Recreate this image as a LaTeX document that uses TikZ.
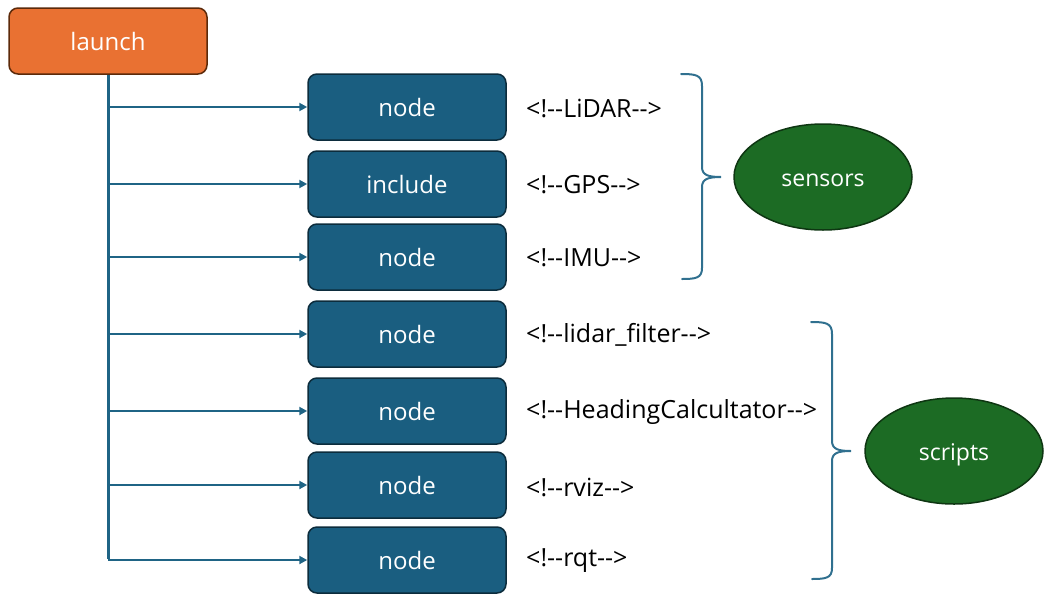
\documentclass[tikz,border=0pt]{standalone}
\usepackage{fontspec}
\setmainfont{Open Sans}
\usetikzlibrary{shapes.geometric,arrows.meta}
\definecolor{launchfill}{HTML}{E97132}
\definecolor{launchline}{HTML}{5C2A0A}
\definecolor{boxfill}{HTML}{1A5E80}
\definecolor{boxline}{HTML}{0C2C3C}
\definecolor{ellfill}{HTML}{1C6B24}
\definecolor{ellline}{HTML}{0E3612}
\definecolor{conn}{HTML}{1F6485}
\definecolor{bracec}{HTML}{30708F}
\tikzset{
  launchbox/.style={draw=launchline, fill=launchfill, line width=1.5pt, rounded corners=9pt,
    minimum width=198pt, minimum height=66pt, inner sep=0pt, text=white, font=\fontsize{24}{28}\selectfont},
  bluebox/.style={draw=boxline, fill=boxfill, line width=1.5pt, rounded corners=9pt,
    minimum width=198pt, minimum height=66pt, inner sep=0pt, text=white, font=\fontsize{24}{28}\selectfont},
  lbl/.style={anchor=west, inner sep=0pt, text=black, font=\fontsize{25}{29}\selectfont},
  grp/.style={ellipse, draw=ellline, fill=ellfill, line width=1.5pt, minimum width=178pt,
    minimum height=106pt, inner sep=0pt, text=white, text height=13pt, text depth=0pt,
    font=\fontsize{23}{27}\selectfont},
  arr/.style={draw=conn, line width=2pt, -{Triangle[length=8pt,width=8pt]}},
  trunk/.style={draw=conn, line width=3pt},
  bracel/.style={draw=bracec, line width=2pt, line cap=round},
}
\begin{document}
\begin{tikzpicture}[x=1pt,y=-1pt]
\useasboundingbox (0,0) rectangle (1051,603);
\node[launchbox] (launch) at (108,41) {launch};
\node[bluebox] (b1) at (407,107) {node};
\node[bluebox] (b2) at (407,184) {include};
\node[bluebox] (b3) at (407,257) {node};
\node[bluebox] (b4) at (407,334) {node};
\node[bluebox] (b5) at (407,411) {node};
\node[bluebox] (b6) at (407,485) {node};
\node[bluebox] (b7) at (407,560) {node};
\node[lbl] (l1) at (526,108) {<!-{}-LiDAR-{}->};
\node[lbl] (l2) at (526,185) {<!-{}-GPS-{}->};
\node[lbl] (l3) at (526,258) {<!-{}-IMU-{}->};
\node[lbl] (l4) at (526,335) {<!-{}-lidar\_filter-{}->};
\node[lbl] (l5) at (526,412) {<!-{}-HeadingCalcultator-{}->};
\node[lbl] (l6) at (526,487) {<!-{}-rviz-{}->};
\node[lbl] (l7) at (526,561) {<!-{}-rqt-{}->};
\node[grp] (sensors) at (823,177) {\raisebox{-3pt}{sensors}};
\node[grp] (scripts) at (954,451) {\raisebox{-3pt}{scripts}};
\coordinate (tend) at (launch.south |- b7.west);
\draw[trunk] (launch.south) -- ([yshift=1pt]tend);
\foreach \i in {1,...,7}{
  \draw[arr] (launch.south |- b\i.west) -- (b\i.west);
}
% sensors brace
\draw[bracel] (681,74) .. controls (696,74) and (702,75) .. (702,86) -- (702,167)
  .. controls (702,175) and (708,177) .. (721,177)
  .. controls (708,177) and (702,179) .. (702,187) -- (702,268)
  .. controls (702,278) and (696,279) .. (682,279);
% scripts brace
\draw[bracel] (811,322) .. controls (826,322) and (832,323) .. (832,334) -- (832,441)
  .. controls (832,449) and (838,451) .. (851,451)
  .. controls (838,451) and (832,453) .. (832,461) -- (832,568)
  .. controls (832,578) and (826,579) .. (812,579);
\end{tikzpicture}
\end{document}
